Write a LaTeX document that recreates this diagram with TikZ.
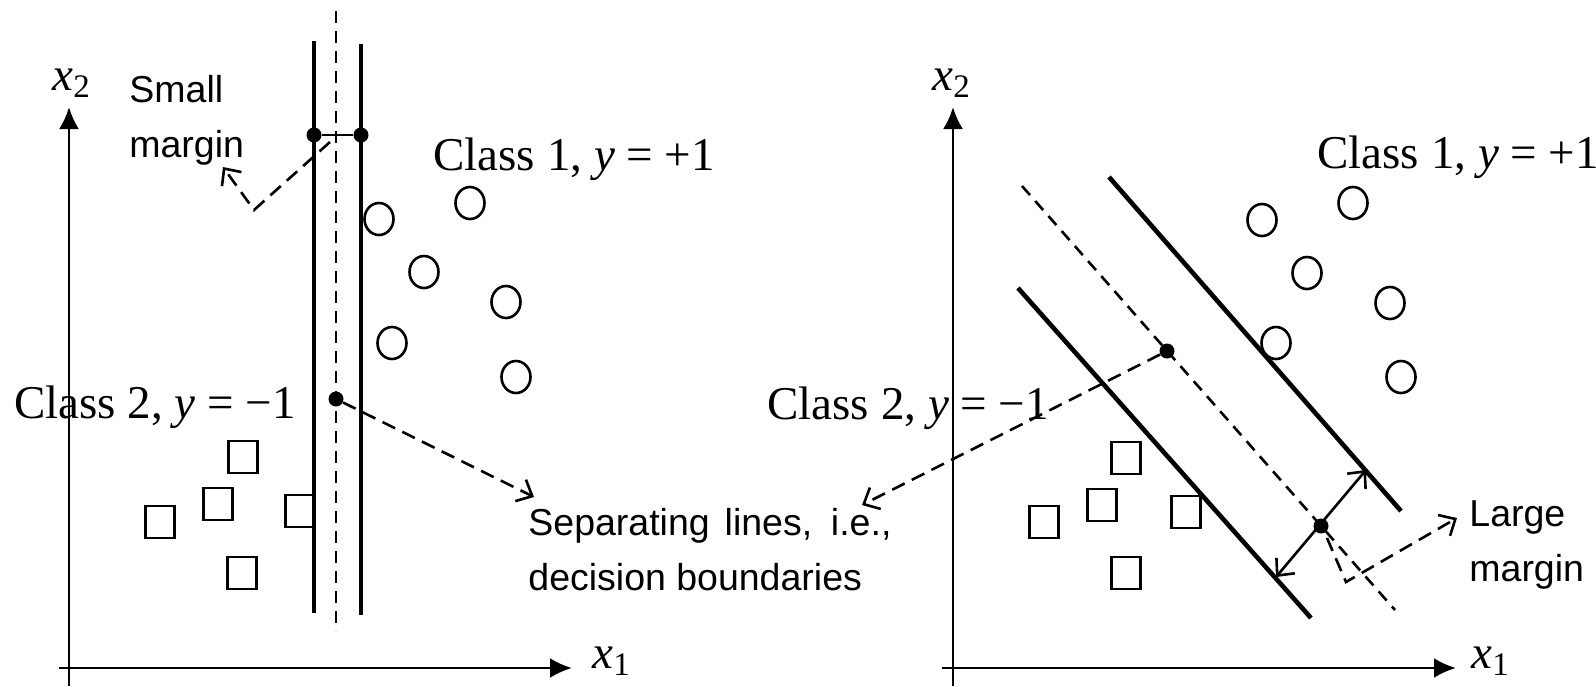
\documentclass[tikz,border=0pt]{standalone}
\usepackage{fontspec}
\setmainfont{Liberation Serif}
\newfontfamily\sansf{Liberation Sans}
\usetikzlibrary{arrows.meta,shapes.geometric}
\begin{document}
\begin{tikzpicture}[x=0.5pt,y=-0.5pt,
  axis/.style={line width=1.4pt,-{Latex[length=11pt,width=10pt]}},
  sepline/.style={line width=2.3pt},
  midline/.style={line width=1.3pt,dash pattern=on 6pt off 4pt},
  leader/.style={line width=1.3pt,dash pattern=on 7pt off 4pt,-{Straight Barb[length=6.5pt,width=12pt,line width=1.3pt]}},
  pos1/.style={draw,ellipse,line width=1.3pt,inner sep=0pt,minimum width=14.5pt,minimum height=16pt},
  neg1/.style={draw,rectangle,line width=1.3pt,inner sep=0pt,minimum width=14.5pt,minimum height=16pt},
  sv/.style={circle,fill=black,inner sep=0pt,minimum size=7.5pt},
  clab/.style={anchor=base west,inner sep=0pt,font=\fontsize{23.5}{28}\selectfont},
  alab/.style={anchor=base west,inner sep=0pt,font=\fontsize{23.5}{28}\selectfont},
  slab/.style={anchor=north west,inner sep=0pt,align=left,font=\sansf\fontsize{18.75}{27.5}\selectfont}
]
\useasboundingbox (0,0) rectangle (1596,686);

% ---------------- left panel ----------------
\coordinate (LyB) at (69,686);
\coordinate (LyT) at (69,107);
\coordinate (LxL) at (59,668);
\coordinate (LxR) at (572,668);
\draw[axis] (LyB) -- (LyT);
\draw[axis] (LxL) -- (LxR);
\node[alab] (Lx2) at (52,90) {\textit{x}\textsubscript{2}};
\node[alab] (Lx1) at (592,668) {\textit{x}\textsubscript{1}};

\coordinate (La1) at (314,41);  \coordinate (La2) at (314,613);
\coordinate (Lm1) at (336,11);  \coordinate (Lm2) at (336,631);
\coordinate (Lb1) at (361,44);  \coordinate (Lb2) at (361,615);
\draw[sepline] (La1) -- (La2);
\draw[sepline] (Lb1) -- (Lb2);
\draw[midline] (Lm1) -- (Lm2);

\node[sv] (Ld1) at (314,135) {};
\node[sv] (Ld2) at (361,135) {};
\draw[line width=1.3pt] (Ld1) -- (Ld2);
\node[sv] (Ld3) at (336,399) {};

\node[slab] (small) at (129,75) {Small\\margin};
\coordinate (Ls0) at (330,142);
\coordinate (Ls1) at (254,210);
\coordinate (Ls2) at (223,167);
\draw[leader] (Ls0) -- (Ls1) -- (Ls2);

\node[clab] (Lc1) at (433,170) {Class 1, \textit{y} = +1};
\node[clab] (Lc2) at (14,418) {Class 2, \textit{y} = −1};

\node[pos1] (Lp1) at (379,219) {};
\node[pos1] (Lp2) at (470,203) {};
\node[pos1] (Lp3) at (424,272) {};
\node[pos1] (Lp4) at (506,302) {};
\node[pos1] (Lp5) at (392,343) {};
\node[pos1] (Lp6) at (516,377) {};

\node[neg1] (Ln1) at (243,457) {};
\node[neg1] (Ln2) at (218,504) {};
\node[neg1] (Ln3) at (160,522) {};
\node[neg1] (Ln4) at (300,511) {};
\node[neg1] (Ln5) at (242,573) {};

\node[slab] (septext) at (528,508) {Separating\hspace{0.4em}lines,\hspace{0.5em}i.e.,\\decision boundaries};
\coordinate (LsepT) at (534,497);
\draw[leader] (Ld3) -- (LsepT);

% ---------------- right panel ----------------
\coordinate (RyB) at (953,686);
\coordinate (RyT) at (953,107);
\coordinate (RxL) at (942,668);
\coordinate (RxR) at (1456,668);
\draw[axis] (RyB) -- (RyT);
\draw[axis] (RxL) -- (RxR);
\node[alab] (Rx2) at (932,90) {\textit{x}\textsubscript{2}};
\node[alab] (Rx1) at (1471,668) {\textit{x}\textsubscript{1}};

\coordinate (Ra1) at (1109,177); \coordinate (Ra2) at (1401,511);
\coordinate (Rm1) at (1022,186); \coordinate (Rm2) at (1395,610);
\coordinate (Rb1) at (1018,288); \coordinate (Rb2) at (1311,618);
\draw[sepline] (Ra1) -- (Ra2);
\draw[sepline] (Rb1) -- (Rb2);
\draw[midline] (Rm1) -- (Rm2);

\node[sv] (Rd1) at (1167,351) {};
\node[sv] (Rd2) at (1321,526) {};

\node[clab] (Rc1) at (1317,168) {Class 1, \textit{y} = +1};
\node[clab] (Rc2) at (767,419) {Class 2, \textit{y} = −1};

\node[pos1] (Rp1) at (1262,220) {};
\node[pos1] (Rp2) at (1353,203) {};
\node[pos1] (Rp3) at (1307,273) {};
\node[pos1] (Rp4) at (1390,303) {};
\node[pos1] (Rp5) at (1276,343) {};
\node[pos1] (Rp6) at (1401,377) {};

\node[neg1] (Rn1) at (1126,458) {};
\node[neg1] (Rn2) at (1102,505) {};
\node[neg1] (Rn3) at (1044,522) {};
\node[neg1] (Rn4) at (1186,512) {};
\node[neg1] (Rn5) at (1126,573) {};

\coordinate (RsepT) at (862,505);
\draw[leader] (Rd1) -- (RsepT);

\coordinate (Rw1) at (1276,577);
\coordinate (Rw2) at (1366,470);
\draw[line width=1.3pt,{Straight Barb[length=6.5pt,width=12pt,line width=1.3pt]}-{Straight Barb[length=6.5pt,width=12pt,line width=1.3pt]}] (Rw1) -- (Rw2);

\node[slab] (large) at (1469,500) {Large\\margin};
\coordinate (Rl0) at (1327,538);
\coordinate (Rl1) at (1346,582);
\coordinate (Rl2) at (1457,518);
\draw[leader] (Rl0) -- (Rl1) -- (Rl2);
\end{tikzpicture}
\end{document}
